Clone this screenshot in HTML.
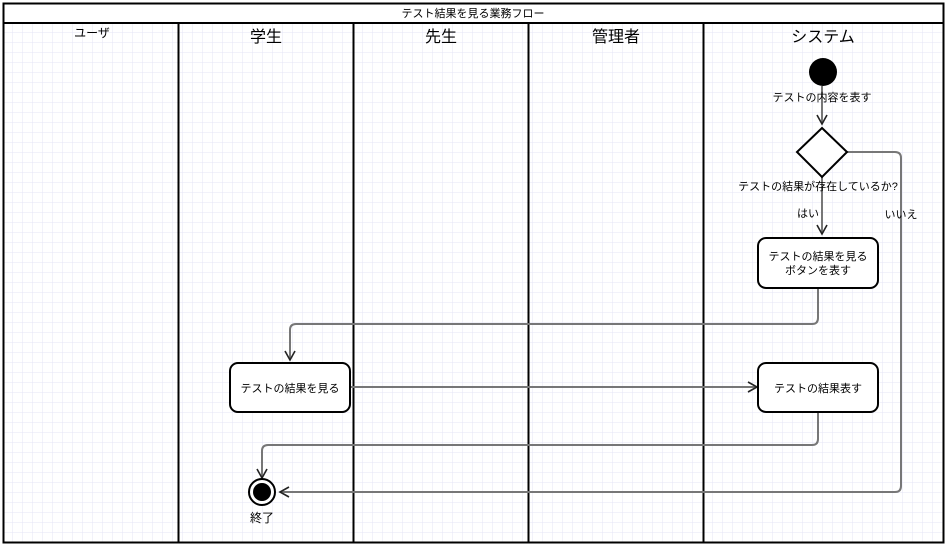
<!DOCTYPE html>
<html><head><meta charset="utf-8"><style>
html,body{margin:0;padding:0;background:#fff}
svg{display:block}
text{font-family:"Liberation Sans","Noto Sans CJK JP",sans-serif;fill:#000}
</style></head><body>
<svg width="947" height="546" viewBox="0 0 947 546" xmlns="http://www.w3.org/2000/svg">
<defs>
<pattern id="g" width="10" height="10" patternUnits="userSpaceOnUse" x="3" y="3">
<path d="M10 0V10M0 10H10" stroke="#e4e4f6" stroke-width="1" fill="none"/>
</pattern>
<marker id="a" markerWidth="12" markerHeight="12" refX="10" refY="6" orient="auto" markerUnits="userSpaceOnUse">
<path d="M1 1L10 6L1 11" fill="none" stroke="#222" stroke-width="1.6"/>
</marker>
</defs>
<rect x="0" y="0" width="947" height="546" fill="#fff"/>
<rect x="4" y="23" width="939" height="519" fill="url(#g)"/>
<rect x="3.5" y="3.5" width="940" height="539" fill="none" stroke="#000" stroke-width="2"/>
<line x1="3" y1="23" x2="944" y2="23" stroke="#000" stroke-width="2"/>
<text x="473" y="17" font-size="11" text-anchor="middle">テスト結果を見る業務フロー</text>
<g stroke="#000" stroke-width="2">
<line x1="178.5" y1="23" x2="178.5" y2="543"/>
<line x1="353.5" y1="23" x2="353.5" y2="543"/>
<line x1="528.5" y1="23" x2="528.5" y2="543"/>
<line x1="703.5" y1="23" x2="703.5" y2="543"/>
</g>
<text x="92" y="37" font-size="12" text-anchor="middle">ユーザ</text>
<text x="266" y="42" font-size="16" text-anchor="middle">学生</text>
<text x="441" y="42" font-size="16" text-anchor="middle">先生</text>
<text x="616" y="42" font-size="16" text-anchor="middle">管理者</text>
<text x="823" y="42" font-size="16" text-anchor="middle">システム</text>

<g fill="none" stroke="#777" stroke-width="2">
<path d="M822 86V124" marker-end="url(#a)"/>
<path d="M822 177V234" marker-end="url(#a)"/>
<path d="M847 152H895Q901 152 901 158V486Q901 492 895 492H280" marker-end="url(#a)"/>
<path d="M818 288V318Q818 324 812 324H296Q290 324 290 330V360" marker-end="url(#a)"/>
<path d="M350 387H757" marker-end="url(#a)"/>
<path d="M818 413V439Q818 445 812 445H268Q262 445 262 451V478" marker-end="url(#a)"/>
</g>
<circle cx="823" cy="72" r="14" fill="#000"/>
<text x="822" y="101" font-size="11" text-anchor="middle">テストの内容を表す</text>
<path d="M822 128L847 152L822 177L797 152Z" fill="#fff" stroke="#000" stroke-width="2"/>
<text x="818" y="190" font-size="11" text-anchor="middle">テストの結果が存在しているか?</text>
<text x="808" y="217" font-size="11" text-anchor="middle">はい</text>
<text x="901" y="218" font-size="11" text-anchor="middle">いいえ</text>
<rect x="758" y="238" width="120" height="50" rx="8" fill="#fff" stroke="#000" stroke-width="2"/>
<text x="818" y="260" font-size="11" text-anchor="middle">テストの結果を見る</text>
<text x="818" y="274" font-size="11" text-anchor="middle">ボタンを表す</text>
<rect x="230" y="363" width="120" height="49" rx="8" fill="#fff" stroke="#000" stroke-width="2"/>
<text x="290" y="392" font-size="11" text-anchor="middle">テストの結果を見る</text>
<rect x="758" y="363" width="120" height="49" rx="8" fill="#fff" stroke="#000" stroke-width="2"/>
<text x="818" y="392" font-size="11" text-anchor="middle">テストの結果表す</text>
<circle cx="262" cy="492" r="13" fill="#fff" stroke="#000" stroke-width="2"/>
<circle cx="262" cy="492" r="9" fill="#000"/>
<text x="262" y="522" font-size="12" text-anchor="middle">終了</text>
</svg>
</body></html>
